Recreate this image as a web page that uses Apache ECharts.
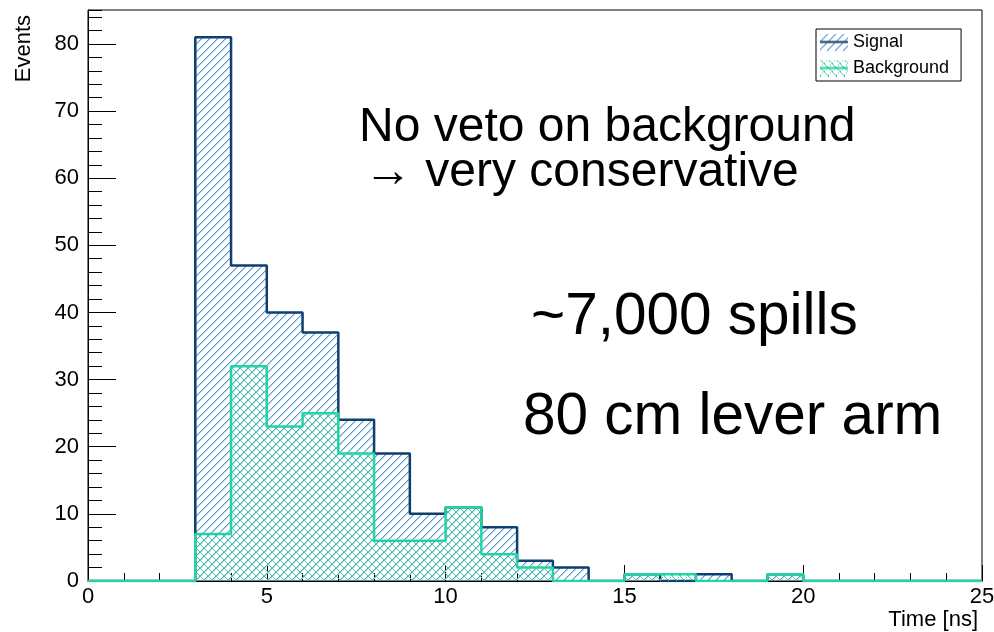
<!DOCTYPE html>
<html><head><meta charset="utf-8">
<script src="https://cdn.jsdelivr.net/npm/echarts@6/dist/echarts.min.js"></script>
<style>html,body{margin:0;padding:0;background:#fff}#c{width:994px;height:632px}</style>
</head><body><div id="c"></div>
<script>
// ---- data ----
const binEdges = [0,1,2,3,4,5,6,7,8,9,10,11,12,13,14,15,16,17,18,19,20,21,22,23,24,25];
const signalCounts = [0,0,0,81,47,40,37,24,19,10,11,8,3,2,0,1,0,1,0,1,0,0,0,0,0];
const backgroundCounts = [0,0,0,7,32,23,25,19,6,6,11,4,2,0,0,1,1,0,0,1,0,0,0,0,0];
const seriesNames = ['Signal', 'Background'];
const xAxisTitle = 'Time [ns]';
const yAxisTitle = 'Events';
const notes = ['No veto on background', '\u2192 very conservative', '~7,000 spills', '80 cm lever arm'];

// ---- style ----
const FONT = '"Liberation Sans", Arial, sans-serif';
const sigLine = '#0f3f6e', sigHatch = '#5b9bd0', sigHatchSoft = '#a8cbe8';
const bkgLine = '#22d3a3', bkgHatch = '#3cc8a0';

// pixel-exact hatch tiles (8x8), like ROOT fill styles
function makeTile(pixels) {
  const c = document.createElement('canvas'); c.width = 8; c.height = 8;
  const g = c.getContext('2d');
  pixels.forEach(p => { g.fillStyle = p[2]; g.fillRect(p[0], p[1], 1, 1); });
  return c;
}
const sigPix = [], bkgPix = [];
for (let i = 0; i < 8; i++) {
  sigPix.push([(i + 1) % 8, 7 - i, sigHatchSoft]);
  sigPix.push([i, 7 - i, sigHatch]);
  bkgPix.push([i, i, bkgHatch]);
  if (i % 2 === 0) bkgPix.push([i, 7 - i, bkgHatch]);
}
const sigTile = makeTile(sigPix);
const bkgTile = makeTile(bkgPix);

function legendIcon(tile, lineColor) {
  const c = document.createElement('canvas'); c.width = 28; c.height = 17;
  const g = c.getContext('2d');
  g.fillStyle = g.createPattern(tile, 'repeat'); g.fillRect(0, 0, 28, 17);
  g.strokeStyle = lineColor; g.lineWidth = 2;
  g.beginPath(); g.moveTo(0, 8.5); g.lineTo(28, 8.5); g.stroke();
  return 'image://' + c.toDataURL();
}

function stepData(counts) {
  const d = counts.map((v, i) => [binEdges[i], v]);
  d.push([binEdges[counts.length], counts[counts.length - 1]]);
  return d;
}

const chart = echarts.init(document.getElementById('c'), null, {renderer: 'canvas'});
const yMax = 85.05;
chart.setOption({
  animation: false,
  textStyle: {fontFamily: FONT},
  grid: {left: 88, right: 12, top: 10, bottom: 51, show: true, borderColor: '#000', borderWidth: 1,
    backgroundColor: 'transparent', containLabel: false, outerBoundsMode: 'none'},
  legend: {
    left: 816, top: 29, orient: 'vertical', itemWidth: 28, itemHeight: 17, itemGap: 6,
    padding: [3, 12, 3, 4], backgroundColor: '#fff', borderColor: '#000', borderWidth: 1,
    selectedMode: false,
    textStyle: {fontSize: 18, color: '#000', fontFamily: FONT, lineHeight: 20},
    data: [
      {name: seriesNames[0], icon: legendIcon(sigTile, sigLine)},
      {name: seriesNames[1], icon: legendIcon(bkgTile, bkgLine)}
    ]
  },
  xAxis: [
    {type: 'value', min: 0, max: 25, interval: 5,
      axisLine: {show: true, lineStyle: {color: '#000', width: 1}},
      axisTick: {show: true, inside: true, length: 16, lineStyle: {color: '#000', width: 1}},
      minorTick: {show: true, splitNumber: 5, length: 8, lineStyle: {color: '#000', width: 1}},
      axisLabel: {color: '#000', fontSize: 22, fontFamily: FONT, margin: 5},
      splitLine: {show: false}, minorSplitLine: {show: false},
      name: xAxisTitle, nameLocation: 'end', nameGap: -4, nameMoveOverlap: false,
      nameTextStyle: {align: 'right', verticalAlign: 'top', fontSize: 22, lineHeight: 22,
        padding: [28, 0, 0, 0], color: '#000', fontFamily: FONT}}
  ],
  yAxis: [
    {type: 'value', min: 0, max: yMax, interval: 10,
      axisLine: {show: true, lineStyle: {color: '#000', width: 1}},
      axisTick: {show: true, inside: true, length: 28, lineStyle: {color: '#000', width: 1}},
      axisLabel: {color: '#000', fontSize: 22, fontFamily: FONT, margin: 9, showMaxLabel: false},
      splitLine: {show: false}},
    {type: 'value', min: 0, max: yMax, interval: 2, position: 'left',
      axisLine: {show: false},
      axisTick: {show: true, inside: true, length: 14, lineStyle: {color: '#000', width: 1}},
      axisLabel: {show: false}, splitLine: {show: false}},
    {type: 'value', min: 0, max: yMax, position: 'left', offset: 64,
      axisLine: {show: false}, axisTick: {show: false}, axisLabel: {show: false}, splitLine: {show: false},
      name: yAxisTitle, nameLocation: 'end', nameRotate: 90, nameGap: -5, nameMoveOverlap: false,
      nameTextStyle: {align: 'right', verticalAlign: 'middle', fontSize: 22, color: '#000', fontFamily: FONT}}
  ],
  series: [
    {name: seriesNames[0], type: 'line', step: 'end', symbol: 'none', data: stepData(signalCounts),
      lineStyle: {color: sigLine, width: 2.5}, itemStyle: {color: sigLine},
      areaStyle: {color: {image: sigTile, repeat: 'repeat'}, opacity: 1}, z: 2},
    {name: seriesNames[1], type: 'line', step: 'end', symbol: 'none', data: stepData(backgroundCounts),
      lineStyle: {color: bkgLine, width: 2.5}, itemStyle: {color: bkgLine},
      areaStyle: {color: {image: bkgTile, repeat: 'repeat'}, opacity: 1}, z: 3}
  ],
  graphic: [
    {type: 'text', x: 359, y: 128, style: {text: notes[0], font: '48px ' + FONT, fill: '#000', verticalAlign: 'middle'}},
    {type: 'text', x: 364, y: 173, style: {text: notes[1], font: '48px ' + FONT, fill: '#000', verticalAlign: 'middle'}},
    {type: 'text', x: 531, y: 318, style: {text: notes[2], font: '58.5px ' + FONT, fill: '#000', verticalAlign: 'middle'}},
    {type: 'text', x: 523, y: 418, style: {text: notes[3], font: '58.5px ' + FONT, fill: '#000', verticalAlign: 'middle'}}
  ]
});
</script></body></html>
